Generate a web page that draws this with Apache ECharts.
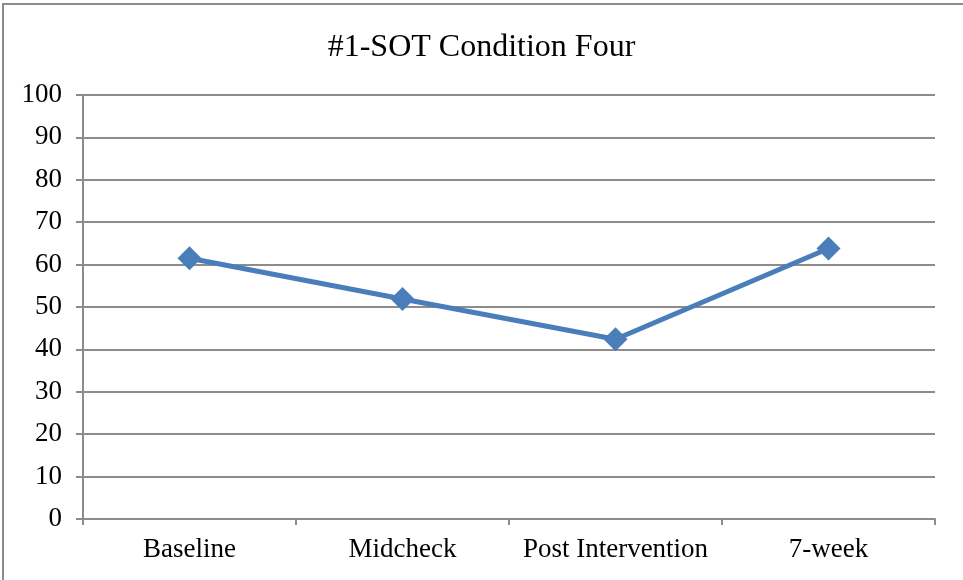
<!DOCTYPE html>
<html>
<head>
<meta charset="utf-8">
<script src="https://cdn.jsdelivr.net/npm/echarts@6/dist/echarts.min.js"></script>
<style>
  html, body { margin: 0; padding: 0; background: #fff; }
  #main { width: 963px; height: 580px; }
</style>
</head>
<body>
<div id="main"></div>
<script>
var categories = ["Baseline", "Midcheck", "Post Intervention", "7-week"];
var scores = [61.5, 51.9, 42.4, 63.8];
var yTicks = [0, 10, 20, 30, 40, 50, 60, 70, 80, 90, 100];

var myChart = echarts.init(document.getElementById("main"));
var option = {
  backgroundColor: "#fff",
  animation: false,
  title: {
    text: "#1-SOT Condition Four",
    left: "center",
    top: 27,
    textStyle: {
      fontFamily: "Liberation Serif",
      fontWeight: "normal",
      fontSize: 32,
      color: "#000"
    }
  },
  graphic: [
    {
      type: "polyline",
      shape: { points: [[3, 580], [3, 4], [963, 4]] },
      style: { stroke: "#8c8c8c", lineWidth: 2, fill: null }
    }
  ],
  grid: {
    left: 83,
    right: 28,
    top: 95,
    bottom: 61
  },
  xAxis: {
    type: "category",
    data: categories,
    boundaryGap: true,
    axisLine: { lineStyle: { color: "#8c8c8c", width: 2 } },
    axisTick: { show: true, interval: 0, length: 6, lineStyle: { color: "#8c8c8c", width: 2 } },
    axisLabel: {
      interval: 0,
      hideOverlap: false,
      margin: 17,
      fontFamily: "Liberation Serif",
      fontSize: 27,
      color: "#000"
    }
  },
  yAxis: {
    type: "value",
    min: yTicks[0],
    max: yTicks[yTicks.length - 1],
    interval: 10,
    axisLine: { show: true, lineStyle: { color: "#8c8c8c", width: 2 } },
    axisTick: { show: true, length: 7, lineStyle: { color: "#8c8c8c", width: 2 } },
    splitLine: { lineStyle: { color: "#8c8c8c", width: 2 } },
    axisLabel: {
      margin: 21,
      fontFamily: "Liberation Serif",
      fontSize: 27,
      color: "#000"
    }
  },
  series: [
    {
      name: "Score",
      type: "line",
      data: scores,
      symbol: "diamond",
      symbolSize: 24,
      lineStyle: { color: "#4a7ebb", width: 5 },
      itemStyle: { color: "#4a7ebb" }
    }
  ]
};
myChart.setOption(option);
</script>
</body>
</html>
